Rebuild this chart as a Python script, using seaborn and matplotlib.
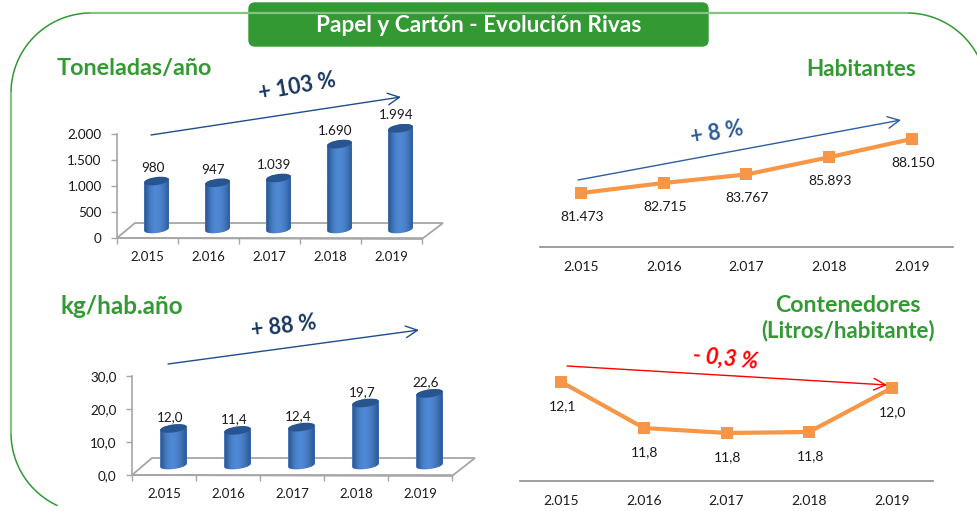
import numpy as np
import matplotlib
matplotlib.use('Agg')
import matplotlib.pyplot as plt
import seaborn as sns
from matplotlib.patches import Ellipse, FancyBboxPatch, Polygon
from matplotlib.path import Path
from matplotlib.transforms import Affine2D, IdentityTransform

W, H = 977, 511

years = ['2.015', '2.016', '2.017', '2.018', '2.019']

toneladas = [980, 947, 1039, 1690, 1994]
toneladas_labels = ['980', '947', '1.039', '1.690', '1.994']
toneladas_ticks = [0, 500, 1000, 1500, 2000]
toneladas_tick_labels = ['0', '500', '1.000', '1.500', '2.000']

kg_hab = [12.0, 11.4, 12.4, 19.7, 22.6]
kg_hab_labels = ['12,0', '11,4', '12,4', '19,7', '22,6']
kg_hab_ticks = [0, 10, 20, 30]
kg_hab_tick_labels = ['0,0', '10,0', '20,0', '30,0']

habitantes = [81473, 82715, 83767, 85893, 88150]
habitantes_labels = ['81.473', '82.715', '83.767', '85.893', '88.150']

contenedores = [12.10, 11.824, 11.794, 11.80, 12.064]
contenedores_labels = ['12,1', '11,8', '11,8', '11,8', '12,0']

GREEN = '#339933'
ORANGE = '#f79646'
TEXT = '#1a1a1a'
AXIS = '#a6a6a6'
TILT = 8

sns.set_theme(style='white')
plt.rcParams['font.family'] = ['Lato', 'DejaVu Sans']

fig = plt.figure(figsize=(W / 100, H / 100), dpi=100)


def px_axes(x0, y0, x1, y1, zorder=1):
    #axes placed by pixel box of the reference
    ax = fig.add_axes([x0 / W, 1 - y1 / H, (x1 - x0) / W, (y1 - y0) / H], zorder=zorder)
    ax.patch.set_visible(False)
    return ax


def overlay(zorder):
    ax = px_axes(0, 0, W, H, zorder)
    ax.set_xlim(0, W)
    ax.set_ylim(H, 0)
    ax.axis('off')
    return ax


bg = overlay(0)
fg = overlay(5)


def frame_arc(cx, cy, r, a0, a1):
    t = np.radians(np.linspace(a0, a1, 60))
    bg.plot(cx + r * np.cos(t), cy + r * np.sin(t), color=GREEN, lw=1.1, solid_capstyle='round')


#rounded green frame, open at the bottom and right
frame_arc(91, 433, 80, 180, 115)
frame_arc(91, 93, 80, 180, 270)
frame_arc(907, 93, 80, 270, 332)
bg.plot([11, 11], [93, 433], color='#82c482', lw=1.6)
bg.plot([91, 907], [13, 13], color='#82c482', lw=1.6)

bg.add_patch(FancyBboxPatch((249, 3), 459, 43, boxstyle='round,pad=0,rounding_size=6',
                            fc=GREEN, ec=GREEN, lw=1))
bg.text(479, 26, 'Papel y Cartón - Evolución Rivas', color='white', fontsize=16.3,
        fontweight='bold', ha='center', va='center')

bg.text(57, 69, 'Toneladas/año', color=GREEN, fontsize=16.8, fontweight='bold', va='center')
bg.text(916, 69, 'Habitantes', color=GREEN, fontsize=16.2, fontweight='bold', va='center', ha='right')
bg.text(61, 306, 'kg/hab.año', color=GREEN, fontsize=17.5, fontweight='bold', va='center')
bg.text(848, 306, 'Contenedores', color=GREEN, fontsize=16.7, fontweight='bold', va='center', ha='center')
bg.text(848, 331, '(Litros/habitante)', color=GREEN, fontsize=16, fontweight='bold', va='center', ha='center')

#3d floors behind the bars
bg.add_patch(Polygon([(117, 238), (135, 223), (443, 223), (422, 239)], closed=True,
                     fc='white', ec=AXIS, lw=1.3))
bg.add_patch(Polygon([(132, 475), (152, 458), (475, 458), (452, 476)], closed=True,
                     fc='white', ec=AXIS, lw=1.3))


def cylinder_outline(base, top, wpx, hpx):
    #body of a tilted cylinder in display pixels
    t = np.radians(TILT)
    rot = np.array([[np.cos(t), -np.sin(t)], [np.sin(t), np.cos(t)]])
    low = np.linspace(np.pi, 2 * np.pi, 30)
    high = np.linspace(0, np.pi, 30)
    low_pts = np.c_[wpx / 2 * np.cos(low), hpx / 2 * np.sin(low)] @ rot.T + base
    high_pts = np.c_[wpx / 2 * np.cos(high), hpx / 2 * np.sin(high)] @ rot.T + top
    return Path(np.vstack([low_pts, high_pts, low_pts[:1]]), closed=True)


def bar_panel(box, values, labels, ticks, tick_labels, ymax, dx, dy, width, label_dx, label_dy):
    ax = px_axes(*box)
    sns.barplot(x=years, y=values, color='#4a7ebf', width=width, saturation=1, ax=ax, zorder=3)
    trans = ax.transData + Affine2D().translate(dx, dy)
    gradient = np.array([[0.0, 0.45, 0.8, 1.0, 1.0, 0.9, 0.7, 0.4, 0.0]])
    cmap = sns.blend_palette(['#2c5c9b', '#4f88d2'], as_cmap=True)
    bars = list(ax.patches)
    images = []
    low = -6 * ymax / (box[3] - box[1])
    for p in bars:
        p.set_transform(trans)
        im = ax.imshow(gradient, cmap=cmap, aspect='auto', zorder=4, interpolation='bilinear',
                       extent=(p.get_x(), p.get_x() + p.get_width(), low, p.get_height() * 1.05))
        im.set_transform(trans)
        images.append(im)
    ax.set_xlim(-0.5, 4.5)
    ax.set_ylim(0, ymax)
    for p, im in zip(bars, images):
        xc = p.get_x() + p.get_width() / 2
        wpx = abs(ax.transData.transform((p.get_width(), 0))[0] - ax.transData.transform((0, 0))[0])
        base = ax.transData.transform((xc, 0)) + np.array([dx, dy])
        top = ax.transData.transform((xc, p.get_height())) + np.array([dx, dy])
        body = cylinder_outline(base + np.array([0, 3]), top, wpx, 8)
        for art in (p, im):
            art.set_clip_on(True)
            art.set_clip_box(fig.bbox)
            art.set_clip_path(body, IdentityTransform())
        ax.add_patch(Ellipse(top, wpx, 8, angle=TILT, transform=IdentityTransform(),
                             fc='#28558f', ec='none', zorder=5, clip_on=False))
    for i, (v, lab) in enumerate(zip(values, labels)):
        ax.annotate(lab, (i, v), xytext=(label_dx, label_dy), textcoords='offset pixels',
                    ha='center', va='center', fontsize=9.7, color=TEXT, annotation_clip=False, zorder=6)
    ax.set_yticks(ticks, tick_labels)
    ax.set_xticks(np.arange(-0.5, 5))
    ax.set_xticklabels([])
    ax.set_xticks(range(5), years, minor=True)
    ax.tick_params(axis='x', which='major', length=4, width=1, color=AXIS, bottom=True)
    ax.tick_params(axis='x', which='minor', length=0, pad=9.5, labelsize=9.5, labelcolor=TEXT, bottom=True)
    ax.tick_params(axis='y', length=4, width=1, color=AXIS, pad=7, labelsize=9.7, labelcolor=TEXT, left=True)
    sns.despine(ax=ax)
    for side in ['left', 'bottom']:
        ax.spines[side].set_color(AXIS)
        ax.spines[side].set_linewidth(1.2)
    ax.set_xlabel('')
    ax.set_ylabel('')
    return ax


def line_panel(box, values, labels, ylim):
    ax = px_axes(*box)
    sns.lineplot(x=range(5), y=values, color=ORANGE, lw=3, marker='s', markersize=8,
                 markeredgewidth=0, ax=ax, clip_on=False)
    ax.set_xlim(-0.5, 4.5)
    ax.set_ylim(*ylim)
    for i, (v, lab) in enumerate(zip(values, labels)):
        ax.annotate(lab, (i, v), xytext=(1, -24), textcoords='offset pixels', ha='center', va='center',
                    fontsize=10, color=TEXT, annotation_clip=False)
    ax.set_xticks(range(5), years)
    ax.set_yticks([])
    ax.tick_params(axis='x', length=0, pad=10, labelsize=10, labelcolor=TEXT)
    sns.despine(ax=ax, left=True)
    ax.spines['bottom'].set_color('#8c8c8c')
    ax.spines['bottom'].set_linewidth(1.2)
    ax.set_xlabel('')
    ax.set_ylabel('')
    return ax


bar_panel((117, 134, 422, 238), toneladas, toneladas_labels, toneladas_ticks, toneladas_tick_labels,
          2000, 9, 6, 0.41, 5, 19)
bar_panel((132, 376, 452, 475), kg_hab, kg_hab_labels, kg_hab_ticks, kg_hab_tick_labels,
          30, 9.5, 7, 0.42, 6, 18)
line_panel((540, 110, 953, 247), habitantes, habitantes_labels, (74800, 91730))
line_panel((520, 370, 933, 481), contenedores, contenedores_labels, (11.506, 12.172))


def trend(x0, y0, x1, y1, color):
    fg.annotate('', xy=(x1, y1), xytext=(x0, y0),
                arrowprops=dict(arrowstyle='->,head_length=0.7,head_width=0.35', color=color, lw=1,
                                shrinkA=0, shrinkB=0))


trend(151, 135, 401, 97, '#1f4e8c')
trend(578, 180, 901, 120, '#2f5f9e')
trend(168, 364, 419, 330, '#1f4e8c')
trend(567, 366, 887, 385, '#ff0000')

fg.text(297, 87, '+ 103 %', color='#17375e', fontsize=15.5, fontweight='bold', rotation=10, ha='center', va='center')
fg.text(717, 133, '+ 8 %', color='#2e5c96', fontsize=15.5, fontweight='bold', rotation=10, ha='center', va='center')
fg.text(284, 327, '+ 88 %', color='#17375e', fontsize=15.5, fontweight='bold', rotation=7, ha='center', va='center')
fg.text(726, 359, '- 0,3 %', color='#ff0000', fontsize=16, fontweight='bold', style='italic', rotation=-6,
        ha='center', va='center')

fig.savefig('out.png', dpi=100)
